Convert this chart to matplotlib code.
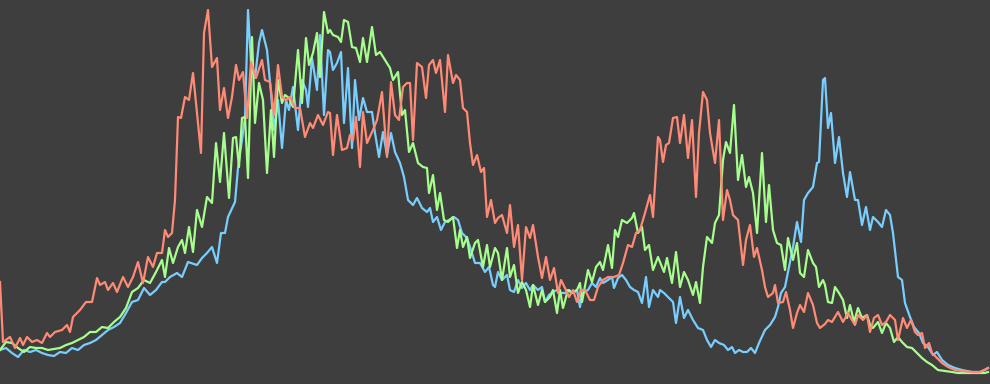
import numpy as np
import matplotlib
matplotlib.use("Agg")
import matplotlib.pyplot as plt

# channel histograms (level, count)
red_x = [0, 3, 10, 15, 20, 23, 27, 32, 37, 42, 47, 50, 55, 62, 67, 70, 73, 80, 86, 92,
         97, 100, 105, 108, 113, 117, 123, 128, 133, 138, 143, 148, 153, 157, 162, 165, 168, 172, 175, 178,
         181, 185, 189, 193, 197, 201, 204, 208, 212, 217, 220, 224, 228, 232, 236, 239, 243, 247, 251, 256,
         262, 265, 270, 274, 278, 282, 286, 290, 295, 300, 305, 310, 313, 318, 323, 328, 330, 333, 337, 342,
         347, 350, 353, 356, 360, 363, 367, 373, 377, 382, 387, 391, 395, 399, 403, 407, 410, 413, 417, 422,
         426, 429, 433, 436, 440, 445, 448, 453, 456, 460, 463, 467, 470, 473, 477, 481, 484, 487, 491, 495,
         498, 502, 507, 510, 514, 518, 522, 526, 530, 533, 538, 542, 546, 550, 554, 558, 561, 565, 569, 573,
         577, 581, 585, 590, 594, 598, 603, 608, 614, 619, 623, 628, 632, 636, 640, 645, 650, 653, 658, 660,
         663, 666, 669, 673, 677, 680, 684, 688, 692, 696, 699, 703, 707, 710, 715, 719, 723, 727, 730, 733,
         738, 743, 746, 750, 754, 757, 762, 765, 768, 773, 775, 778, 783, 786, 790, 793, 797, 800, 804, 808,
         813, 817, 820, 825, 828, 832, 838, 843, 848, 852, 855, 858, 863, 867, 870, 874, 878, 882, 886, 890,
         895, 898, 903, 907, 911, 915, 918, 922, 925, 929, 932, 937, 942, 948, 955, 962, 972, 980, 984, 988]
red_y = [102, 42, 47, 36, 46, 39, 47, 42, 44, 41, 51, 47, 52, 54, 59, 52, 67, 74, 82, 82,
         106, 99, 102, 94, 101, 92, 107, 97, 107, 122, 101, 127, 117, 131, 131, 154, 147, 151, 184, 267,
         266, 287, 284, 311, 271, 231, 351, 374, 317, 326, 274, 296, 266, 287, 319, 304, 312, 266, 322, 306,
         324, 304, 302, 269, 319, 287, 284, 287, 276, 276, 247, 261, 256, 269, 259, 272, 271, 229, 269, 234,
         236, 249, 244, 267, 217, 272, 241, 254, 264, 292, 227, 302, 269, 264, 297, 301, 301, 244, 321, 317,
         286, 319, 324, 311, 324, 272, 329, 301, 309, 304, 276, 272, 241, 219, 229, 212, 216, 167, 184, 161,
         166, 169, 151, 179, 137, 159, 104, 157, 146, 159, 127, 106, 127, 104, 116, 91, 104, 96, 87, 94,
         82, 94, 94, 84, 84, 97, 104, 107, 107, 109, 121, 139, 137, 151, 154, 171, 189, 167, 247, 244,
         222, 239, 241, 266, 267, 241, 269, 226, 264, 187, 251, 292, 284, 251, 221, 264, 164, 194, 184, 169,
         164, 119, 144, 159, 127, 136, 114, 97, 87, 91, 99, 81, 82, 92, 74, 56, 71, 79, 72, 91,
         79, 61, 56, 60, 64, 62, 72, 62, 71, 64, 59, 69, 64, 69, 52, 66, 69, 59, 62, 69,
         64, 44, 66, 56, 64, 52, 49, 51, 36, 41, 31, 26, 21, 17, 14, 13, 12, 12, 14, 16]

green_x = [0, 6, 12, 18, 24, 30, 36, 42, 48, 54, 60, 66, 72, 78, 84, 90, 96, 102, 108, 114,
           120, 126, 132, 138, 144, 150, 156, 162, 165, 169, 173, 178, 182, 185, 189, 193, 197, 202, 207, 212,
           216, 220, 224, 229, 233, 236, 239, 242, 245, 248, 252, 255, 259, 263, 267, 271, 274, 278, 282, 285,
           289, 293, 298, 302, 306, 309, 313, 317, 320, 324, 328, 330, 333, 338, 341, 344, 348, 352, 356, 360,
           363, 367, 372, 376, 380, 385, 390, 393, 398, 402, 405, 409, 413, 418, 423, 427, 429, 433, 437, 440,
           444, 448, 453, 457, 460, 463, 467, 470, 475, 478, 483, 487, 490, 495, 498, 502, 507, 510, 514, 518,
           522, 526, 530, 533, 538, 542, 545, 550, 553, 557, 560, 563, 568, 572, 577, 580, 582, 588, 592, 596,
           600, 603, 608, 612, 615, 618, 622, 627, 632, 634, 638, 642, 645, 649, 653, 658, 660, 664, 667, 672,
           676, 680, 684, 688, 693, 696, 700, 703, 707, 712, 715, 719, 723, 726, 730, 734, 738, 742, 746, 749,
           753, 757, 762, 766, 769, 773, 777, 781, 785, 788, 793, 797, 800, 804, 808, 813, 816, 819, 823, 825,
           828, 832, 835, 839, 843, 847, 850, 854, 858, 862, 867, 870, 873, 878, 882, 886, 890, 894, 898, 902,
           907, 912, 917, 922, 927, 932, 938, 945, 952, 958, 968, 978, 985, 988]
green_y = [34, 42, 41, 36, 32, 37, 36, 36, 34, 35, 36, 39, 41, 44, 47, 52, 52, 57, 56, 62,
           67, 76, 92, 96, 104, 101, 112, 124, 107, 136, 121, 137, 144, 131, 157, 132, 174, 157, 187, 181,
           241, 202, 251, 186, 246, 247, 217, 266, 267, 206, 347, 261, 301, 284, 211, 274, 227, 304, 281, 289,
           286, 277, 334, 281, 346, 319, 331, 351, 307, 372, 351, 354, 349, 347, 342, 364, 362, 337, 336, 322,
           346, 322, 357, 329, 332, 324, 316, 304, 312, 269, 274, 232, 241, 221, 217, 216, 191, 209, 174, 191,
           164, 162, 167, 136, 154, 137, 147, 126, 141, 144, 117, 139, 117, 136, 131, 104, 136, 107, 119, 91,
           102, 94, 77, 99, 79, 94, 82, 87, 94, 71, 94, 76, 94, 91, 94, 101, 82, 114, 102, 117,
           122, 114, 139, 116, 154, 147, 164, 161, 166, 171, 151, 157, 134, 139, 114, 127, 122, 112, 126, 101,
           132, 97, 112, 104, 89, 102, 81, 117, 147, 141, 161, 169, 224, 242, 231, 279, 204, 229, 197, 207,
           191, 151, 231, 162, 199, 154, 141, 139, 114, 146, 124, 141, 111, 107, 134, 121, 117, 97, 104, 99,
           82, 81, 97, 91, 84, 66, 79, 62, 76, 66, 69, 59, 56, 62, 51, 61, 56, 42, 47, 42,
           37, 36, 31, 26, 22, 19, 14, 13, 12, 11, 11, 11, 11, 12]

blue_x = [0, 6, 12, 18, 24, 30, 36, 42, 48, 54, 60, 66, 72, 78, 84, 90, 96, 102, 108, 114,
          120, 126, 132, 138, 144, 150, 156, 162, 165, 170, 177, 182, 188, 197, 202, 207, 212, 217, 221, 225,
          228, 235, 238, 242, 245, 248, 251, 255, 259, 262, 267, 271, 274, 278, 282, 286, 289, 293, 298, 302,
          306, 308, 312, 317, 320, 324, 328, 330, 333, 337, 341, 344, 348, 352, 355, 359, 363, 367, 372, 375,
          379, 383, 387, 391, 395, 400, 404, 408, 413, 417, 422, 427, 430, 433, 437, 441, 445, 449, 454, 458,
          462, 467, 471, 475, 480, 485, 489, 493, 495, 498, 502, 507, 510, 514, 518, 522, 526, 530, 533, 538,
          542, 545, 549, 553, 557, 561, 565, 569, 573, 577, 580, 582, 588, 592, 596, 600, 603, 608, 612, 614,
          618, 622, 626, 630, 634, 638, 642, 646, 649, 653, 658, 660, 664, 668, 673, 676, 680, 684, 688, 693,
          698, 703, 707, 711, 715, 719, 724, 728, 732, 735, 739, 743, 747, 751, 755, 759, 765, 770, 775, 778,
          781, 785, 789, 793, 797, 801, 804, 808, 813, 817, 819, 823, 825, 828, 831, 835, 839, 843, 847, 850,
          855, 858, 862, 866, 870, 873, 878, 882, 886, 890, 893, 898, 902, 905, 910, 914, 919, 923, 928, 933,
          937, 942, 948, 955, 962, 972, 980, 985, 988]
blue_y = [34, 36, 31, 27, 34, 32, 34, 31, 29, 28, 32, 31, 36, 34, 39, 41, 44, 49, 54, 57,
          61, 71, 82, 84, 96, 89, 94, 102, 102, 107, 111, 107, 122, 119, 126, 131, 137, 121, 151, 151,
          167, 182, 216, 244, 267, 374, 321, 306, 341, 354, 334, 291, 254, 284, 236, 284, 274, 297, 254, 304,
          294, 277, 326, 294, 349, 269, 334, 332, 314, 321, 332, 261, 316, 236, 304, 264, 286, 272, 272, 251,
          227, 252, 229, 251, 232, 221, 207, 184, 179, 186, 176, 172, 176, 162, 167, 154, 162, 164, 167, 164,
          151, 146, 134, 121, 121, 112, 117, 99, 97, 112, 104, 109, 94, 92, 104, 96, 101, 94, 99, 94,
          97, 82, 89, 92, 94, 91, 91, 94, 91, 94, 77, 91, 94, 101, 97, 106, 101, 104, 107, 96,
          106, 109, 104, 97, 94, 92, 81, 107, 77, 94, 87, 94, 91, 87, 82, 61, 87, 66, 74, 64,
          56, 54, 44, 37, 44, 41, 39, 34, 37, 31, 34, 32, 32, 36, 31, 41, 54, 59, 67, 77,
          91, 97, 117, 137, 162, 142, 184, 191, 197, 221, 222, 304, 306, 256, 271, 221, 247, 211, 187, 212,
          184, 184, 159, 177, 154, 167, 162, 157, 174, 169, 151, 107, 104, 81, 67, 57, 51, 41, 37, 29,
          32, 24, 19, 16, 14, 12, 12, 14, 16]

fig = plt.figure(figsize=(9.9, 3.84), dpi=100)
fig.patch.set_facecolor('#3e3e3e')
ax = fig.add_axes([0, 0, 1, 1])
ax.set_facecolor('#3e3e3e')

ax.plot(blue_x, blue_y, color='#78cfff', lw=1.6)
ax.plot(green_x, green_y, color='#a6ff8c', lw=1.6)
ax.plot(red_x, red_y, color='#ff8a76', lw=1.6)

ax.set_xlim(0, 990)
ax.set_ylim(0, 384)
ax.axis('off')

plt.savefig('out.png', dpi=100, facecolor=fig.get_facecolor())
